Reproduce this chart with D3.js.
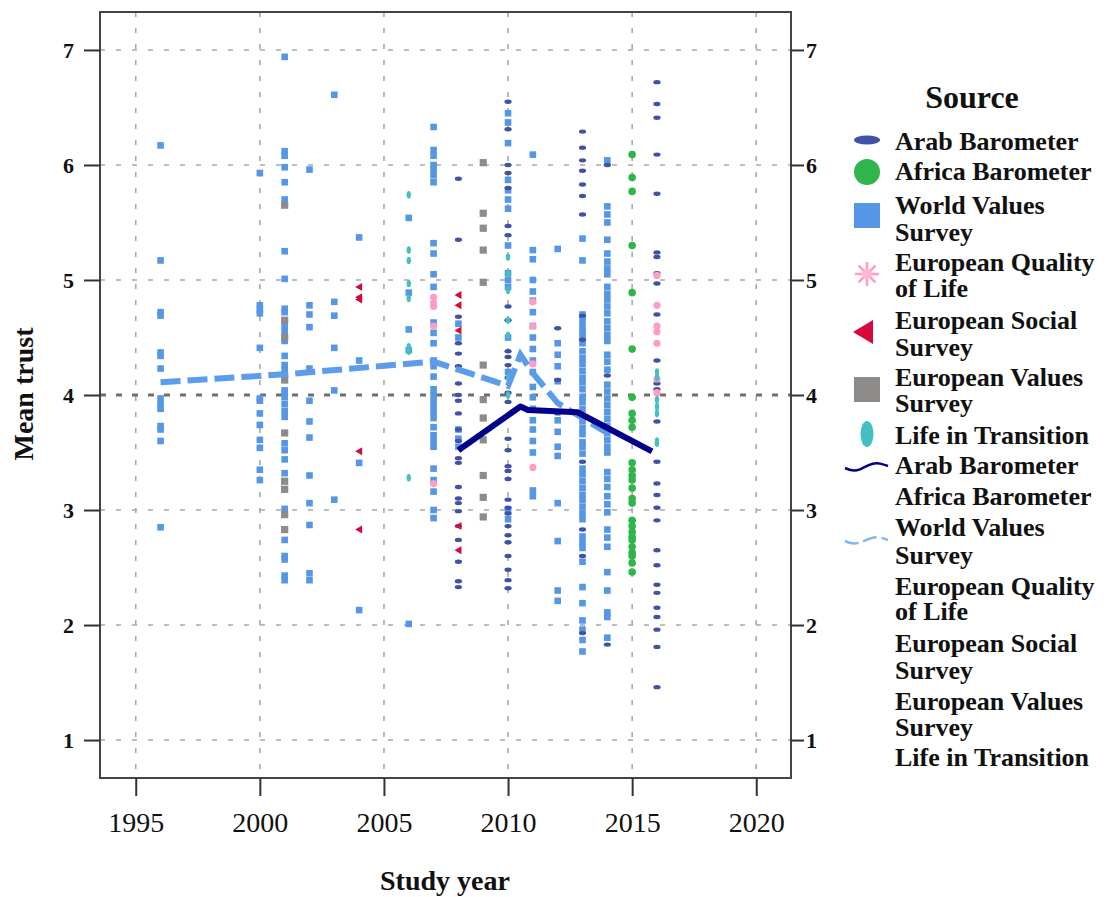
<!DOCTYPE html>
<html>
<head>
<meta charset="utf-8">
<script src="https://cdn.jsdelivr.net/npm/d3@7"></script>
<style>
  body { margin: 0; background: #fff; }
  svg { display: block; font-family: "Liberation Serif", "Times New Roman", serif; }
</style>
</head>
<body>
<svg id="chart" width="1107" height="897"></svg>
<script>
// ---- data: mean trust per study, grouped by study year ----
var sources = ["Arab Barometer", "Africa Barometer", "World Values Survey",
  "European Quality of Life", "European Social Survey", "European Values Survey", "Life in Transition"];

var xTicks = [1995, 2000, 2005, 2010, 2015, 2020];
var yTicks = [1, 2, 3, 4, 5, 6, 7];

var arabBarometer = {
  2008: [5.88, 5.35, 4.68, 4.45, 4.36, 4.25, 4.10, 4.00, 3.95, 3.84, 3.70, 3.60, 3.45, 3.41, 3.20, 3.10, 3.06, 2.99, 2.86, 2.74, 2.55, 2.38, 2.33],
  2010: [6.55, 6.31, 6.00, 5.93, 5.80, 5.47, 5.39, 4.77, 4.65, 4.38, 4.33, 4.26, 4.15, 4.02, 3.94, 3.62, 3.52, 3.38, 3.34, 3.27, 3.09, 3.02, 2.97, 2.86, 2.78, 2.72, 2.60, 2.48, 2.39, 2.32],
  2012: [4.58, 4.13, 3.84],
  2013: [6.29, 6.15, 6.04, 5.95, 5.83, 5.73, 5.57, 4.69, 4.48, 3.42, 2.83, 2.60, 1.93],
  2014: [6.00, 4.17, 1.83],
  2016: [6.72, 6.53, 6.41, 6.09, 5.75, 5.24, 5.20, 5.06, 4.97, 4.70, 4.30, 4.10, 4.05, 3.77, 3.42, 3.23, 3.13, 3.02, 2.91, 2.65, 2.52, 2.35, 2.28, 2.15, 2.07, 1.96, 1.81, 1.46]
};

var africaBarometer = {
  2015: [6.09, 5.89, 5.77, 5.30, 4.89, 4.40, 3.98, 3.84, 3.78, 3.72, 3.41, 3.35, 3.30, 3.26, 3.19, 3.10, 3.06, 2.91, 2.86, 2.81, 2.77, 2.74, 2.68, 2.63, 2.60, 2.54, 2.46]
};

var worldValues = {
  1996: [6.17, 5.17, 4.72, 4.69, 4.37, 4.34, 4.23, 3.97, 3.93, 3.88, 3.73, 3.70, 3.60, 2.85],
  2000: [5.93, 4.78, 4.74, 4.71, 4.41, 3.97, 3.95, 3.84, 3.74, 3.61, 3.54, 3.35, 3.26],
  2001: [6.94, 6.12, 6.08, 5.98, 5.85, 5.70, 5.25, 5.01, 4.75, 4.72, 4.60, 4.55, 4.47, 4.34, 4.26, 4.22, 4.04, 4.02, 3.98, 3.92, 3.86, 3.81, 3.58, 3.52, 3.44, 3.32, 3.18, 3.01, 2.74, 2.60, 2.57, 2.43, 2.39],
  2002: [5.96, 4.78, 4.70, 4.59, 4.23, 3.95, 3.77, 3.63, 3.30, 3.06, 2.87, 2.45, 2.39],
  2003: [6.61, 4.81, 4.69, 4.41, 4.04, 3.09],
  2004: [5.37, 4.30, 3.41, 2.13],
  2006: [5.54, 4.89, 4.57, 4.39, 2.01],
  2007: [6.33, 6.13, 6.08, 6.00, 5.96, 5.91, 5.85, 5.32, 5.23, 5.05, 4.94, 4.63, 4.54, 4.45, 4.30, 4.25, 4.16, 4.05, 4.00, 3.95, 3.90, 3.85, 3.80, 3.72, 3.65, 3.60, 3.55, 3.36, 3.26, 3.16, 3.00, 2.93],
  2008: [4.62, 4.50, 3.70, 3.62, 3.55],
  2010: [6.45, 6.37, 6.19, 5.87, 5.78, 5.70, 5.62, 5.30, 5.06, 5.00, 4.94, 4.50, 4.20, 3.00, 2.92],
  2011: [6.09, 5.26, 5.18, 5.00, 4.90, 4.82, 4.72, 4.60, 4.50, 4.40, 4.30, 4.20, 4.07, 3.98, 3.88, 3.78, 3.70, 3.60, 3.50, 3.17, 3.12],
  2012: [5.27, 4.45, 4.35, 4.25, 4.12, 3.78, 3.68, 3.55, 3.47, 3.06, 2.73, 2.30, 2.21],
  2013: [5.36, 5.17, 4.70, 4.65, 4.60, 4.55, 4.51, 4.45, 4.38, 4.32, 4.27, 4.21, 4.15, 4.11, 4.05, 3.98, 3.94, 3.88, 3.82, 3.77, 3.71, 3.66, 3.59, 3.55, 3.49, 3.36, 3.31, 3.25, 3.19, 3.13, 3.09, 3.03, 2.97, 2.92, 2.77, 2.72, 2.67, 2.55, 2.33, 2.19, 2.04, 1.96, 1.87, 1.77],
  2014: [6.04, 5.64, 5.57, 5.50, 5.35, 5.23, 5.16, 5.10, 5.05, 4.94, 4.88, 4.83, 4.77, 4.71, 4.64, 4.58, 4.52, 4.47, 4.35, 4.29, 4.22, 4.09, 4.03, 3.97, 3.91, 3.85, 3.79, 3.73, 3.67, 3.61, 3.55, 3.50, 3.33, 3.27, 3.20, 3.12, 3.05, 2.98, 2.83, 2.76, 2.68, 2.46, 2.30, 2.11, 2.07, 1.89]
};

var europeanQuality = {
  2007: [4.85, 4.80, 4.77, 4.60, 3.23],
  2011: [4.81, 4.60, 4.27, 3.37],
  2016: [5.04, 4.78, 4.60, 4.55, 4.45, 4.14, 4.02]
};

var europeanSocial = {
  2004: [4.94, 4.85, 4.83, 3.51, 2.83],
  2008: [4.87, 4.78, 4.56, 2.86, 2.65]
};

var europeanValues = {
  2001: [5.65, 4.65, 4.50, 4.13, 3.67, 3.25, 3.18, 2.96, 2.83],
  2009: [6.02, 5.58, 5.45, 5.26, 4.98, 4.26, 3.96, 3.80, 3.61, 3.30, 3.11, 2.94]
};

var lifeInTransition = {
  2006: [5.74, 5.26, 5.17, 4.97, 4.84, 4.42, 4.38, 3.28],
  2010: [5.20, 5.05, 4.91, 4.65, 4.52, 4.15, 4.00],
  2016: [4.20, 4.15, 3.96, 3.90, 3.84, 3.60, 3.58]
};

// per-source trend lines
var arabTrendYears = [2008, 2010.5, 2010.8, 2012.8, 2015.8];
var arabTrendValues = [3.52, 3.90, 3.87, 3.85, 3.51];
var wvsTrendYears = [1996, 2001, 2007, 2008, 2010, 2010.5, 2011, 2012, 2013, 2014];
var wvsTrendValues = [4.11, 4.18, 4.29, 4.22, 4.08, 4.35, 4.19, 3.93, 3.80, 3.67];

// ---- styles ----
var colors = {
  arab: "#3F52A6", africa: "#2EB54B", wvs: "#5597E6", eql: "#FF9CC6",
  ess: "#D8083C", evs: "#8E8B8B", lit: "#45C0C2", arabLine: "#00008B", wvsLine: "#5B9DEA"
};

var svg = d3.select("#chart");
var plotL = 100, plotR = 791, plotT = 12, plotB = 778;

var x = d3.scaleLinear().domain([1993.56, 2021.4]).range([plotL, plotR]);
var y = d3.scaleLinear().domain([0.67, 7.33]).range([plotB, plotT]);

function flat(obj) {
  var out = [];
  Object.keys(obj).forEach(function (yr) {
    obj[yr].forEach(function (v) { out.push({ year: +yr, value: v }); });
  });
  return out;
}

// grid
var grid = svg.append("g");
grid.selectAll(".vg").data(xTicks).enter().append("line")
  .attr("x1", function (d) { return x(d); }).attr("x2", function (d) { return x(d); })
  .attr("y1", plotT).attr("y2", plotB)
  .attr("stroke", "#a8a8a8").attr("stroke-width", 1.6).attr("stroke-dasharray", "5,11");
grid.selectAll(".hg").data(yTicks.filter(function (d) { return d !== 4; })).enter().append("line")
  .attr("x1", plotL).attr("x2", plotR)
  .attr("y1", function (d) { return y(d); }).attr("y2", function (d) { return y(d); })
  .attr("stroke", "#a8a8a8").attr("stroke-width", 1.6).attr("stroke-dasharray", "5,11");
grid.append("line")
  .attr("x1", plotL).attr("x2", plotR).attr("y1", y(4)).attr("y2", y(4))
  .attr("stroke", "#6e6e6e").attr("stroke-width", 3).attr("stroke-dasharray", "6,10");

// points
var pts = svg.append("g");

pts.selectAll(".wvs").data(flat(worldValues)).enter().append("rect")
  .attr("x", function (d) { return x(d.year) - 3.3; }).attr("y", function (d) { return y(d.value) - 3.3; })
  .attr("width", 6.6).attr("height", 6.6).attr("fill", colors.wvs);

pts.selectAll(".arab").data(flat(arabBarometer)).enter().append("ellipse")
  .attr("cx", function (d) { return x(d.year); }).attr("cy", function (d) { return y(d.value); })
  .attr("rx", 3.6).attr("ry", 2.2).attr("fill", colors.arab);

pts.selectAll(".africa").data(flat(africaBarometer)).enter().append("circle")
  .attr("cx", function (d) { return x(d.year); }).attr("cy", function (d) { return y(d.value); })
  .attr("r", 3.8).attr("fill", colors.africa);

pts.selectAll(".evs").data(flat(europeanValues)).enter().append("rect")
  .attr("x", function (d) { return x(d.year) - 3.6; }).attr("y", function (d) { return y(d.value) - 3.6; })
  .attr("width", 7.2).attr("height", 7.2).attr("fill", colors.evs);

pts.selectAll(".eql").data(flat(europeanQuality)).enter().append("circle")
  .attr("cx", function (d) { return x(d.year); }).attr("cy", function (d) { return y(d.value); })
  .attr("r", 3.6).attr("fill", colors.eql);

pts.selectAll(".ess").data(flat(europeanSocial)).enter().append("path")
  .attr("d", function (d) {
    var cx = x(d.year), cy = y(d.value);
    return "M" + (cx - 4) + "," + cy + "L" + (cx + 3) + "," + (cy - 4) + "L" + (cx + 3) + "," + (cy + 4) + "Z";
  })
  .attr("fill", colors.ess);

pts.selectAll(".lit").data(flat(lifeInTransition)).enter().append("ellipse")
  .attr("cx", function (d) { return x(d.year); }).attr("cy", function (d) { return y(d.value); })
  .attr("rx", 2.2).attr("ry", 3.8).attr("fill", colors.lit);

// trend lines
var line = d3.line().x(function (d) { return x(d[0]); }).y(function (d) { return y(d[1]); });
svg.append("path")
  .datum(wvsTrendYears.map(function (yr, i) { return [yr, wvsTrendValues[i]]; }))
  .attr("d", line).attr("fill", "none")
  .attr("stroke", colors.wvsLine).attr("stroke-width", 6).attr("stroke-dasharray", "20,7");
svg.append("path")
  .datum(arabTrendYears.map(function (yr, i) { return [yr, arabTrendValues[i]]; }))
  .attr("d", line).attr("fill", "none")
  .attr("stroke", colors.arabLine).attr("stroke-width", 6).attr("stroke-linejoin", "round");

// frame
svg.append("rect").attr("x", plotL).attr("y", plotT).attr("width", plotR - plotL).attr("height", plotB - plotT)
  .attr("fill", "none").attr("stroke", "#444").attr("stroke-width", 2);

// axes
var yAxisL = svg.append("g").attr("transform", "translate(" + plotL + ",0)")
  .call(d3.axisLeft(y).tickValues(yTicks).tickSize(16).tickPadding(10).tickFormat(d3.format("d")));
var yAxisR = svg.append("g").attr("transform", "translate(" + plotR + ",0)")
  .call(d3.axisRight(y).tickValues(yTicks).tickSize(13).tickPadding(2).tickFormat(d3.format("d")));
var xAxis = svg.append("g").attr("transform", "translate(0," + plotB + ")")
  .call(d3.axisBottom(x).tickValues(xTicks).tickSize(18).tickPadding(16).tickFormat(d3.format("d")));

[yAxisL, yAxisR].forEach(function (a) {
  a.select(".domain").remove();
  a.selectAll(".tick line").attr("stroke", "#333").attr("stroke-width", 2);
  a.selectAll(".tick text").attr("font-family", "Liberation Serif, serif")
    .attr("font-size", 22).attr("font-weight", "bold").attr("fill", "#111");
});
xAxis.select(".domain").remove();
xAxis.selectAll(".tick line").attr("stroke", "#333").attr("stroke-width", 2);
xAxis.selectAll(".tick text").attr("font-family", "Liberation Serif, serif")
  .attr("font-size", 28).attr("fill", "#111");

// axis titles
svg.append("text").attr("x", 445).attr("y", 890).attr("text-anchor", "middle")
  .attr("font-size", 28).attr("font-weight", "bold").attr("fill", "#111").text("Study year");
svg.append("text").attr("transform", "translate(33,394) rotate(-90)").attr("text-anchor", "middle")
  .attr("font-size", 28).attr("font-weight", "bold").attr("fill", "#111").text("Mean trust");

// legend
var lg = svg.append("g");
lg.append("text").attr("x", 972).attr("y", 108).attr("text-anchor", "middle")
  .attr("font-size", 32).attr("font-weight", "bold").attr("fill", "#111").text("Source");

var legendLines = [
  ["Arab Barometer", 141], ["Africa Barometer", 171], ["World Values", 205], ["Survey", 232],
  ["European Quality", 262], ["of Life", 288], ["European Social", 320], ["Survey", 347],
  ["European Values", 377], ["Survey", 403], ["Life in Transition", 435],
  ["Arab Barometer", 465], ["Africa Barometer", 496], ["World Values", 527], ["Survey", 555],
  ["European Quality", 586], ["of Life", 611], ["European Social", 643], ["Survey", 670],
  ["European Values", 701], ["Survey", 727], ["Life in Transition", 757]
];
lg.selectAll(".lt").data(legendLines).enter().append("text")
  .attr("x", 895).attr("y", function (d) { return d[1] + 9; })
  .attr("font-size", 26).attr("font-weight", "bold").attr("fill", "#111")
  .text(function (d) { return d[0]; });

var sx = 867;
lg.append("ellipse").attr("cx", sx).attr("cy", 140).attr("rx", 13).attr("ry", 4.5).attr("fill", colors.arab);
lg.append("circle").attr("cx", sx).attr("cy", 172).attr("r", 13).attr("fill", colors.africa);
lg.append("rect").attr("x", sx - 13).attr("y", 203).attr("width", 26).attr("height", 25).attr("fill", colors.wvs);
var star = lg.append("g").attr("transform", "translate(" + sx + ",274)");
d3.range(8).forEach(function (i) {
  var a = i * Math.PI / 4;
  star.append("line").attr("x1", 0).attr("y1", 0)
    .attr("x2", 12 * Math.cos(a)).attr("y2", 12 * Math.sin(a))
    .attr("stroke", colors.eql).attr("stroke-width", 2.5);
});
star.append("circle").attr("r", 5).attr("fill", "#FFB6D4");
lg.append("path").attr("d", "M853,332L873,320L873,344Z").attr("fill", colors.ess);
lg.append("rect").attr("x", sx - 13).attr("y", 377).attr("width", 26).attr("height", 25).attr("fill", colors.evs);
lg.append("ellipse").attr("cx", sx).attr("cy", 434).attr("rx", 6.5).attr("ry", 13).attr("fill", colors.lit);

var wave = d3.line().curve(d3.curveBasis);
lg.append("path").attr("d", wave([[845, 468], [852, 471], [860, 470], [868, 465], [877, 462], [888, 466]]))
  .attr("fill", "none").attr("stroke", colors.arabLine).attr("stroke-width", 2.5);
lg.append("path").attr("d", wave([[845, 541], [852, 544], [860, 543], [868, 539], [877, 536], [888, 540]]))
  .attr("fill", "none").attr("stroke", "#7FB5F0").attr("stroke-width", 2.5).attr("stroke-dasharray", "14,5");
</script>
</body>
</html>
